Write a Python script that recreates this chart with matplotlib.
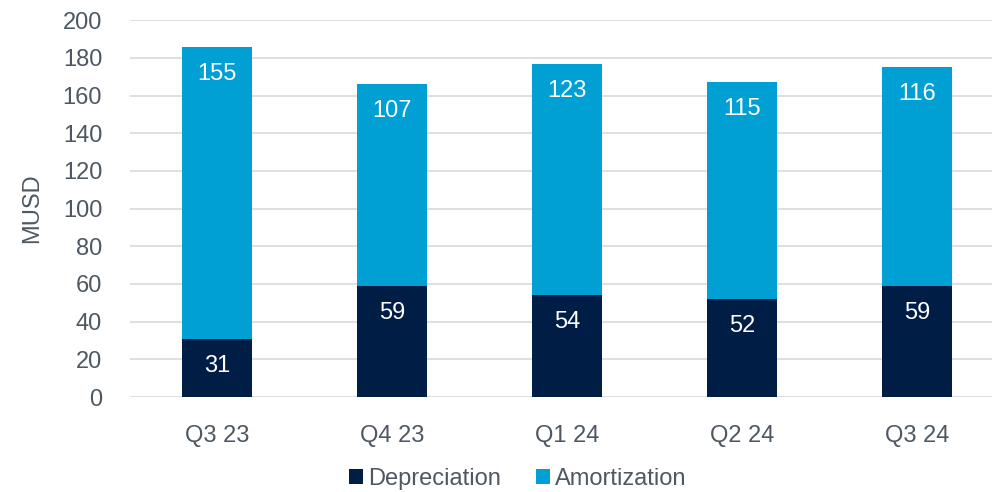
import matplotlib
matplotlib.use("Agg")
import matplotlib.pyplot as plt
import numpy as np

quarters = ["Q3 23", "Q4 23", "Q1 24", "Q2 24", "Q3 24"]
depreciation = [31, 59, 54, 52, 59]
amortization = [155, 107, 123, 115, 116]

DARK = "#001e45"
LIGHT = "#009fd4"
GREY = "#4d5863"

plt.rcParams["font.family"] = ["Liberation Sans", "DejaVu Sans"]

fig = plt.figure(figsize=(9.92, 4.92), dpi=100)
ax = fig.add_axes([0.131, 0.193, 0.869, 0.766])

x = np.arange(len(quarters))
w = 0.4
b1 = ax.bar(x, depreciation, w, color=DARK, label="Depreciation", zorder=3)
b2 = ax.bar(x, amortization, w, bottom=depreciation, color=LIGHT,
            label="Amortization", zorder=3)

# labels sit just inside the top of each segment
for bars, vals, bottoms in ((b1, depreciation, [0] * 5), (b2, amortization, depreciation)):
    for xi, v, b in zip(x, vals, bottoms):
        ax.annotate(str(v), (xi, b + v), xytext=(0, -27), textcoords="offset pixels",
                    ha="center", va="center", color="white", fontsize=17, zorder=4)

ax.set_ylim(0, 200)
ax.set_xlim(-0.5, 4.43)
ax.set_yticks(range(0, 201, 20))
ax.set_xticks(x)
ax.set_xticklabels(quarters)
ax.yaxis.grid(True, color="#d9d9d9", linewidth=1.2, zorder=0)
ax.tick_params(axis="both", length=0, labelsize=17, colors=GREY)
ax.tick_params(axis="x", pad=20)
ax.tick_params(axis="y", pad=20)
for s in ax.spines.values():
    s.set_visible(False)
ax.set_ylabel("MUSD", fontsize=17, color=GREY, labelpad=14)

ax.legend(loc="lower center", bbox_to_anchor=(0.45, -0.303), ncol=2, frameon=False,
          fontsize=17, labelcolor=GREY, handlelength=0.6, handleheight=0.6,
          handletextpad=0.2, columnspacing=1.5)

fig.savefig("out.png", dpi=100)
